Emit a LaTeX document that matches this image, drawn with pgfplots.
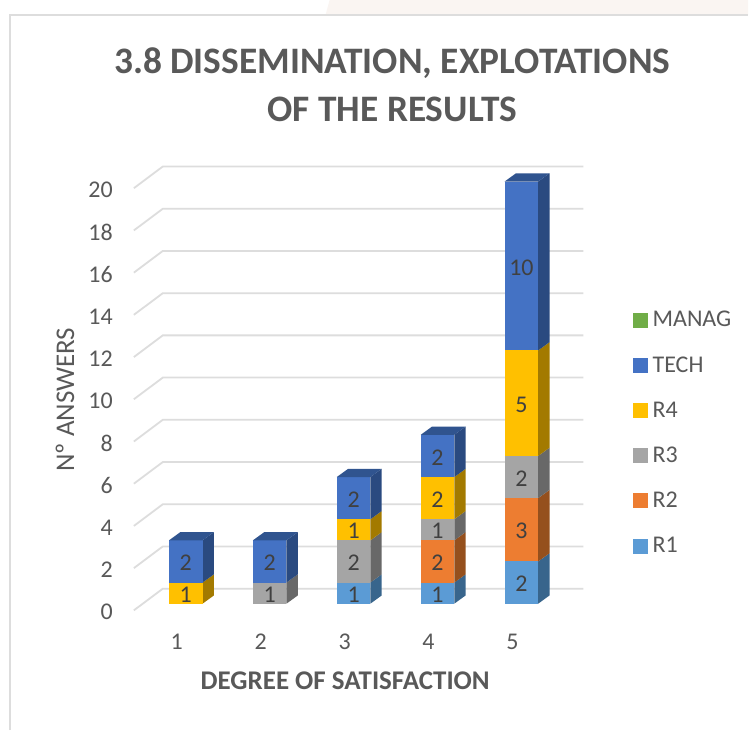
\documentclass[border=0pt]{standalone}
\usepackage{pgfplots}
\pgfplotsset{compat=1.18}
\usepackage{fontspec}
\setmainfont{Carlito}
\definecolor{txt}{HTML}{595959}
\definecolor{pinkbg}{HTML}{FAF5F2}
\definecolor{gridc}{HTML}{DDDDDD}
\definecolor{labc}{HTML}{404040}
\definecolor{cR1}{HTML}{5B9BD5}\definecolor{sR1}{HTML}{38658C}
\definecolor{cR2}{HTML}{ED7D31}\definecolor{sR2}{HTML}{95501D}
\definecolor{cR3}{HTML}{A5A5A5}\definecolor{sR3}{HTML}{686868}
\definecolor{cR4}{HTML}{FFC000}\definecolor{sR4}{HTML}{A37A00}
\definecolor{cT}{HTML}{4472C4}\definecolor{sT}{HTML}{2A4A80}\definecolor{tT}{HTML}{30548F}
\definecolor{cM}{HTML}{70AD47}
% one stacked segment: value, front colour, side colour
\newcommand{\oneseg}[3]{%
  \ifnum#1>0
    \pgfmathsetmacro\ytop{min(\ybase+#1,20)}%
    \pgfmathsetmacro\xl{\kat-0.2}%
    \pgfmathsetmacro\xr{\kat+0.2}%
    \pgfmathsetmacro\xb{\xr+0.1345}%
    \pgfmathsetmacro\ybb{\ybase+0.388}%
    \pgfmathsetmacro\ytb{\ytop+0.388}%
    \pgfmathsetmacro\ymid{(\ybase+\ytop)/2}%
    \edef\tmp{\noexpand\addplot[fill=#3,draw=none,forget plot] coordinates {(\xr,\ybase)(\xb,\ybb)(\xb,\ytb)(\xr,\ytop)} --cycle;
      \noexpand\addplot[fill=#2,draw=none,forget plot] coordinates {(\xl,\ybase)(\xr,\ybase)(\xr,\ytop)(\xl,\ytop)} --cycle;
      \noexpand\node[text=labc,yshift=-1.5pt,font=\noexpand\fontsize{24}{26}\noexpand\selectfont] at (axis cs:\kat,\ymid) {#1};}%
    \tmp
    \let\ybase\ytop
  \fi}
\newcommand{\stackbar}[6]{%
  \def\kat{#1}\def\ybase{0}%
  \oneseg{#2}{cR1}{sR1}%
  \oneseg{#3}{cR2}{sR2}%
  \oneseg{#4}{cR3}{sR3}%
  \oneseg{#5}{cR4}{sR4}%
  \oneseg{#6}{cT}{sT}%
  \pgfmathsetmacro\xl{\kat-0.2}%
  \pgfmathsetmacro\xr{\kat+0.2}%
  \pgfmathsetmacro\xb{\xr+0.1345}%
  \pgfmathsetmacro\xa{\xl+0.1345}%
  \pgfmathsetmacro\ytb{\ybase+0.388}%
  \edef\tmp{\noexpand\addplot[fill=tT,draw=none,forget plot] coordinates {(\xl,\ybase)(\xr,\ybase)(\xb,\ytb)(\xa,\ytb)} --cycle;}%
  \tmp}
\begin{document}
\begin{tikzpicture}[x=1pt,y=1pt]
% page: 749 x 731, origin at the axis' lower left corner (px 144, 604.3)
\fill[white] (-144,-126.7) rectangle (605,604.3);
\fill[pinkbg] (186,604.3) -- (605,604.3) -- (605,589.5) -- (182,589.5) -- cycle;
\draw[line width=1.6pt,gridc] (-134,-126.7) -- (-134,589.5) -- (605,589.5);
\begin{axis}[
  at={(0pt,0pt)},anchor=origin,
  scale only axis,
  width=420pt,height=422.6pt,
  xmin=0.5,xmax=5.5,ymin=0,ymax=20,
  clip=false,no markers,
  axis line style={draw=none},
  tick style={draw=none},
  xtick={1,2,3,4,5},
  ytick={0,2,...,20},
  /pgf/number format/assume math mode=true,
  tick label style={font=\fontsize{24}{26}\selectfont,text=txt},
  xticklabel style={anchor=center,xshift=-9pt,yshift=-38pt},
  yticklabel style={anchor=east,inner sep=0pt,xshift=-31pt,yshift=-8.5pt},
  unbounded coords=jump,
  title={3.8 DISSEMINATION, EXPLOTATIONS\\[2pt]OF THE RESULTS},
  title style={at={(axis cs:3.46,24.28)},anchor=center,align=center,text=txt,
     font=\fontsize{37.4}{46}\selectfont\bfseries},
  xlabel={DEGREE OF SATISFACTION},
  xlabel style={at={(axis cs:2.9,-3.67)},anchor=center,text=txt,font=\fontsize{27}{29}\selectfont\bfseries},
  ylabel={Nº ANSWERS},
  ylabel style={at={(axis cs:-0.44,9.66)},anchor=center,text=txt,font=\fontsize{27}{29}\selectfont},
  legend style={at={(axis cs:6.33,13.95)},anchor=north west,draw=none,fill=none,
     row sep=24.2pt,font=\fontsize{24}{26}\selectfont,text=txt,inner sep=0pt,
     /tikz/every odd column/.style={column sep=3pt}},
  legend cell align=left,
  legend image code/.code={\fill[#1] (0pt,-7pt) rectangle (14pt,7pt);},
]
\addplot[gridc,line width=1.8pt,forget plot] coordinates {
(0.381,-0.317)(0.726,0.71)(5.738,0.71)(nan,nan)
(0.381,1.683)(0.726,2.71)(5.738,2.71)(nan,nan)
(0.381,3.683)(0.726,4.71)(5.738,4.71)(nan,nan)
(0.381,5.683)(0.726,6.71)(5.738,6.71)(nan,nan)
(0.381,7.683)(0.726,8.71)(5.738,8.71)(nan,nan)
(0.381,9.683)(0.726,10.71)(5.738,10.71)(nan,nan)
(0.381,11.683)(0.726,12.71)(5.738,12.71)(nan,nan)
(0.381,13.683)(0.726,14.71)(5.738,14.71)(nan,nan)
(0.381,15.683)(0.726,16.71)(5.738,16.71)(nan,nan)
(0.381,17.683)(0.726,18.71)(5.738,18.71)(nan,nan)
(0.381,19.683)(0.726,20.71)(5.738,20.71)
};
\stackbar{1}{0}{0}{0}{1}{2}
\stackbar{2}{0}{0}{1}{0}{2}
\stackbar{3}{1}{0}{2}{1}{2}
\stackbar{4}{1}{2}{1}{2}{2}
\stackbar{5}{2}{3}{2}{5}{10}
\addlegendimage{cM}\addlegendentry{MANAG}
\addlegendimage{cT}\addlegendentry{TECH}
\addlegendimage{cR4}\addlegendentry{R4}
\addlegendimage{cR3}\addlegendentry{R3}
\addlegendimage{cR2}\addlegendentry{R2}
\addlegendimage{cR1}\addlegendentry{R1}
\end{axis}
\end{tikzpicture}
\end{document}
